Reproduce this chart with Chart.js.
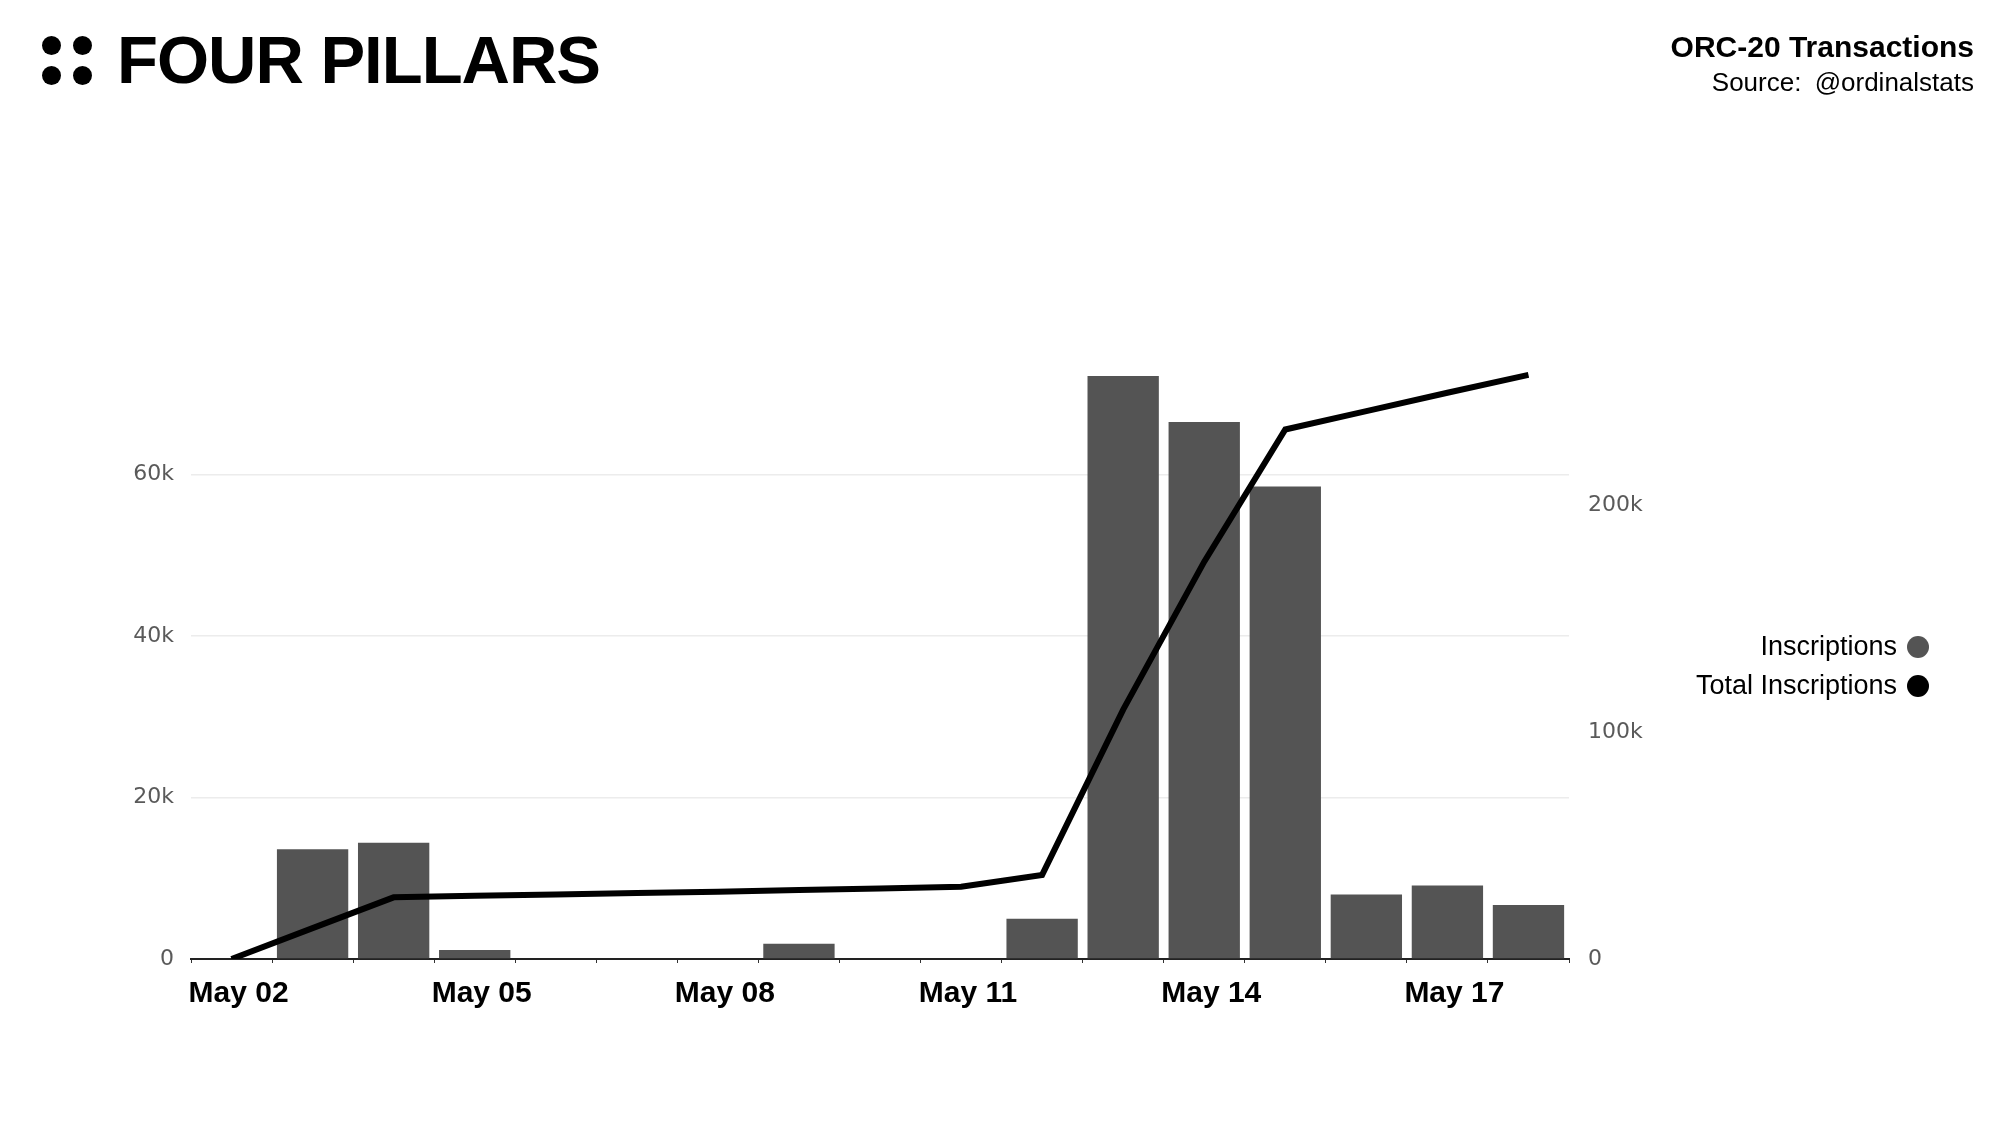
<!DOCTYPE html>
<html>
<head>
<meta charset="utf-8">
<title>ORC-20 Transactions</title>
<script src="https://cdn.jsdelivr.net/npm/chart.js@4.4.0/dist/chart.umd.min.js"></script>
<style>
  body { margin: 0; background: #fff; font-family: "Liberation Sans", Arial, sans-serif; }
  #wrap { position: relative; width: 2000px; height: 1123px; overflow: hidden; background: #fff; }
  #chart { position: absolute; left: 0; top: 0; }
  .dot { position: absolute; width: 19px; height: 19px; border-radius: 50%; background: #000; }
  #logoText { position: absolute; left: 117px; top: 26px; font-size: 67px; line-height: 67px; font-weight: bold; letter-spacing: -1px; color: #000; white-space: nowrap; }
  #title { position: absolute; right: 26px; top: 32px; text-align: right; color: #000; white-space: nowrap; }
  #title .main { font-size: 30px; line-height: 29px; font-weight: bold; }
  #title .sub { font-size: 26px; line-height: 26px; margin-top: 8px; word-spacing: 6px; }
  #legend { position: absolute; right: 71px; top: 627px; }
  #legend .row { display: flex; justify-content: flex-end; align-items: center; height: 39px; font-size: 27px; color: #000; white-space: nowrap; }
  #legend .swatch { width: 22px; height: 22px; border-radius: 50%; margin-left: 10px; }
</style>
</head>
<body>
<div id="wrap">
  <canvas id="chart" width="2000" height="1123"></canvas>
  <div class="dot" style="left:42px; top:36px;"></div>
  <div class="dot" style="left:73px; top:36px;"></div>
  <div class="dot" style="left:42px; top:66px;"></div>
  <div class="dot" style="left:73px; top:66px;"></div>
  <div id="logoText">FOUR PILLARS</div>
  <div id="title">
    <div class="main">ORC-20 Transactions</div>
    <div class="sub">Source: @ordinalstats</div>
  </div>
  <div id="legend"></div>
</div>
<script>
// Data
const days = [
  "May 02", "May 03", "May 04", "May 05", "May 06", "May 07", "May 08", "May 09", "May 10",
  "May 11", "May 12", "May 13", "May 14", "May 15", "May 16", "May 17", "May 18",
];
const inscriptions = [
  0, 13600, 14400, 1100, 100, 100, 100, 1900, 100,
  100, 5000, 72200, 66500, 58500, 8000, 9100, 6700,
];
const totalInscriptions = [
  0, 13600, 27200, 27900, 28500, 29100, 29700, 30400, 31100,
  31900, 37100, 110000, 175300, 233600, 241700, 249800, 257700,
];
const leftTicks = [0, 20000, 40000, 60000];
const rightTicks = [0, 100000, 200000];

const barColor = "#545454";
const lineColor = "#000000";

function kLabel(v) {
  return v === 0 ? "0" : v / 1000 + "k";
}

const ctx = document.getElementById("chart").getContext("2d");
const chart = new Chart(ctx, {
  type: "bar",
  data: {
    labels: days,
    datasets: [
      {
        type: "line",
        label: "Total Inscriptions",
        data: totalInscriptions,
        yAxisID: "yRight",
        borderColor: lineColor,
        backgroundColor: lineColor,
        borderWidth: 6,
        pointRadius: 0,
        tension: 0,
        order: 0,
      },
      {
        type: "bar",
        label: "Inscriptions",
        data: inscriptions,
        yAxisID: "yLeft",
        backgroundColor: barColor,
        borderWidth: 0,
        categoryPercentage: 1,
        barPercentage: 0.88,
        order: 1,
      },
    ],
  },
  options: {
    responsive: false,
    animation: false,
    layout: { padding: { top: 313, left: 0, right: 0, bottom: 0 } },
    plugins: {
      legend: { display: false },
      tooltip: { enabled: false },
    },
    scales: {
      x: {
        grid: {
          display: true,
          drawOnChartArea: false,
          drawTicks: true,
          tickLength: 4,
          color: "#333",
        },
        border: { display: true, color: "#222", width: 2 },
        ticks: {
          autoSkip: false,
          maxRotation: 0,
          padding: 13,
          labelOffset: 7,
          color: "#000",
          font: { family: "'Liberation Sans', Arial, sans-serif", size: 30, weight: "bold" },
          callback: (val, i) => (i % 3 === 0 ? days[i] : ""),
        },
        afterFit: (scale) => { scale.height = 164; },
      },
      yLeft: {
        position: "left",
        min: 0,
        max: 80000,
        border: { display: false },
        grid: {
          drawTicks: false,
          lineWidth: 1.5,
          color: (c) => (c.tick && c.tick.value === 0 ? "rgba(0,0,0,0)" : "#ececec"),
        },
        ticks: {
          padding: 17,
          color: "#5a5a5a",
          font: { family: "'DejaVu Sans', Verdana, sans-serif", size: 22 },
          callback: (v) => kLabel(v),
        },
        afterBuildTicks: (axis) => { axis.ticks = leftTicks.map((v) => ({ value: v })); },
        afterFit: (scale) => { scale.width = 191; },
      },
      yRight: {
        position: "right",
        min: 0,
        max: 285000,
        border: { display: false },
        grid: { display: false, drawTicks: false },
        ticks: {
          padding: 19,
          color: "#5a5a5a",
          font: { family: "'DejaVu Sans', Verdana, sans-serif", size: 22 },
          callback: (v) => kLabel(v),
        },
        afterBuildTicks: (axis) => { axis.ticks = rightTicks.map((v) => ({ value: v })); },
        afterFit: (scale) => { scale.width = 431; },
      },
    },
  },
});

// HTML legend, built from the datasets (bar first, line second)
const legendEl = document.getElementById("legend");
const legendItems = [chart.data.datasets[1], chart.data.datasets[0]];
legendItems.forEach((ds) => {
  const row = document.createElement("div");
  row.className = "row";
  row.innerHTML = `<span>${ds.label}</span><span class="swatch" style="background:${ds.backgroundColor}"></span>`;
  legendEl.appendChild(row);
});
</script>
</body>
</html>
